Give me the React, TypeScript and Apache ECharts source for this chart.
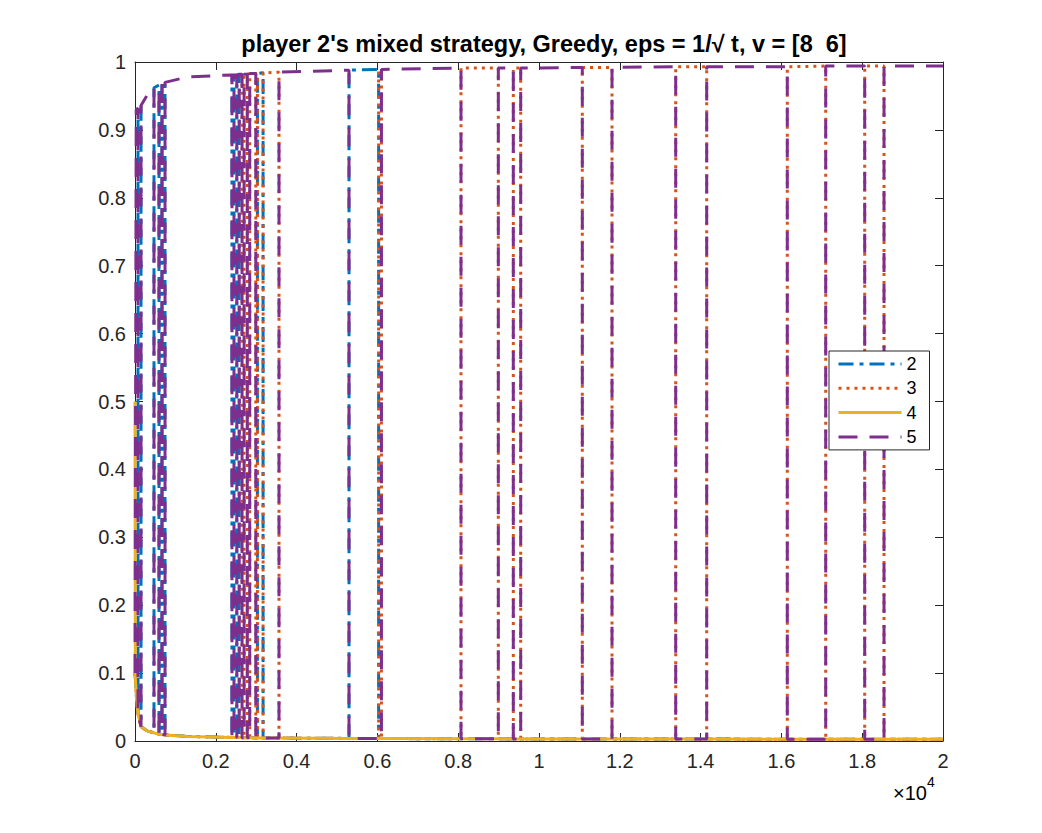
import React, { useEffect, useRef } from 'react';
import * as echarts from 'echarts';

// ---- data ----
const seriesNames = ['2', '3', '4', '5'];
const seriesColors = ['#0072BD', '#D95319', '#EDB120', '#7E2F8E'];

// starting points of each strategy before the first switch
const start2: [number, number][] = [[0, 0.1], [40, 0.06]];
const start3: [number, number][] = [[0, 0.1], [40, 0.06]];
const start4: [number, number][] = [[0, 0.5], [8, 0.094], [40, 0.06]];
const start5: [number, number][] = [[0, 0.1], [30, 0.93]];

// switch events: time, strategy on top afterwards, top value, bottom value
const eventX = [
  74, 149, 300, 470, 594, 668, 743, 1300, 2400, 2450, 2520, 2580, 2650, 2700, 2780, 2840,
  2990, 3030, 3170, 3564, 5297, 6030, 6100, 8069, 8993, 9364, 9547, 11072, 11807, 13384,
  14151, 16146, 17097, 18062, 18540, 20000,
];
const eventLeader = [
  '2', '5', '5', '2', '5', '2', '5', '5', '2', '5', '2', '5', '3', '5', '3', '5',
  '3', '2', '3', '5', '2', '3', '5', '3', '5', '3', '5', '3', '5', '3',
  '5', '3', '5', '3', '5', '5',
];
const eventTop = [
  0.932, 0.936, 0.951, 0.962, 0.966, 0.968, 0.970, 0.978, 0.981, 0.981, 0.981, 0.982, 0.982, 0.982, 0.982, 0.983,
  0.983, 0.983, 0.984, 0.985, 0.988, 0.989, 0.989, 0.991, 0.991, 0.991, 0.991, 0.992, 0.992, 0.993,
  0.993, 0.993, 0.994, 0.994, 0.994, 0.994,
];
const eventLow = [
  0.04, 0.021, 0.015, 0.012, 0.010, 0.0095, 0.009, 0.0068, 0.0052, 0.0051, 0.005, 0.005, 0.0049, 0.0048, 0.0048, 0.0047,
  0.0046, 0.0046, 0.0045, 0.0044, 0.0038, 0.0036, 0.0036, 0.0033, 0.0032, 0.0031, 0.0031, 0.003, 0.003, 0.0028,
  0.0028, 0.0027, 0.0026, 0.0026, 0.0025, 0.0024,
];

const xTickValues = [0, 2000, 4000, 6000, 8000, 10000, 12000, 14000, 16000, 18000, 20000];
const titleText = "player 2's mixed strategy, Greedy, eps = 1/\u221A t, v = [8  6]";

const dashPatterns: number[][] = [[15, 6, 4, 6], [3, 5], [], [19, 12]];

function buildSeries(name: string, start: [number, number][]): [number, number][] {
  const pts: [number, number][] = start.slice();
  let leader = '5';
  for (let i = 0; i < eventX.length; i++) {
    const x = eventX[i];
    const nl = eventLeader[i];
    const top = eventTop[i];
    const low = eventLow[i];
    if (name === leader && name === nl) pts.push([x, top]);
    else if (name === leader) pts.push([x, top], [x, low]);
    else if (name === nl) pts.push([x, low], [x, top]);
    else pts.push([x, low]);
    leader = nl;
  }
  return pts;
}

const FONT = '"Liberation Sans", Arial, Helvetica, sans-serif';
const AX = '#262626';

export default function App() {
  const ref = useRef<HTMLDivElement>(null);
  useEffect(() => {
    document.body.style.margin = '0';
    if (!ref.current) return;
    const chart = echarts.init(ref.current, undefined, { renderer: 'svg' });
    const starts = [start2, start3, start4, start5];
    const series = seriesNames.map((n, i) => ({
      name: n,
      type: 'line',
      data: buildSeries(n, starts[i]),
      showSymbol: false,
      symbol: 'none',
      xAxisIndex: 0,
      yAxisIndex: 0,
      clip: true,
      lineStyle: {
        color: seriesColors[i],
        width: 3,
        type: dashPatterns[i].length ? dashPatterns[i] : 'solid',
      },
      itemStyle: { color: seriesColors[i] },
      emphasis: { disabled: true },
    }));
    const axisCommon = {
      axisLine: { show: true, onZero: false, lineStyle: { color: AX, width: 1 } },
      axisTick: { show: true, inside: true, length: 8, lineStyle: { color: AX } },
      splitLine: { show: false },
    };
    chart.setOption({
      animation: false,
      backgroundColor: '#ffffff',
      textStyle: { fontFamily: FONT },
      title: {
        text: titleText,
        left: 539,
        textAlign: 'center',
        top: 27,
        textStyle: { fontFamily: FONT, fontSize: 23.5, fontWeight: 'bold', color: '#000' },
      },
      grid: { left: 135, right: 99, top: 62, bottom: 92, containLabel: false },
      xAxis: [
        {
          type: 'value', min: 0, max: 20000, interval: 2000, position: 'bottom',
          ...axisCommon,
          axisLabel: {
            show: true, margin: 10, color: AX, fontSize: 20, fontFamily: FONT,
            formatter: (v: number) => (xTickValues.includes(v) ? String(v / 10000) : ''),
          },
        },
        {
          type: 'value', min: 0, max: 20000, interval: 2000, position: 'top',
          ...axisCommon,
          axisLabel: { show: false },
        },
      ],
      yAxis: [
        {
          type: 'value', min: 0, max: 1, interval: 0.1, position: 'left',
          ...axisCommon,
          axisLabel: {
            show: true, margin: 9, color: AX, fontSize: 20, fontFamily: FONT,
            formatter: (v: number) => String(Math.round(v * 10) / 10),
          },
        },
        {
          type: 'value', min: 0, max: 1, interval: 0.1, position: 'right',
          ...axisCommon,
          axisLabel: { show: false },
        },
      ],
      legend: {
        data: seriesNames,
        orient: 'vertical',
        left: 829,
        top: 351,
        padding: [4, 13, 4, 8],
        itemGap: 6.3,
        itemWidth: 63,
        itemHeight: 14,
        backgroundColor: '#ffffff',
        borderColor: AX,
        borderWidth: 1,
        borderRadius: 0,
        itemStyle: { opacity: 0, borderWidth: 0 },
        lineStyle: { width: 3 },
        textStyle: { fontFamily: FONT, fontSize: 18, color: '#000' },
        selectedMode: false,
      },
      graphic: [
        {
          type: 'text',
          left: 893,
          top: 775,
          style: {
            text: '{a|\u00D710}{b|4}',
            rich: {
              a: { fontFamily: FONT, fontSize: 20, color: AX, verticalAlign: 'bottom', padding: [8, 0, 0, 0] },
              b: { fontFamily: FONT, fontSize: 14, color: AX, verticalAlign: 'top' },
            },
          },
        },
      ],
      series,
    });
    return () => chart.dispose();
  }, []);
  return <div ref={ref} style={{ width: 1042, height: 833, position: 'absolute', left: 0, top: 0 }} />;
}
